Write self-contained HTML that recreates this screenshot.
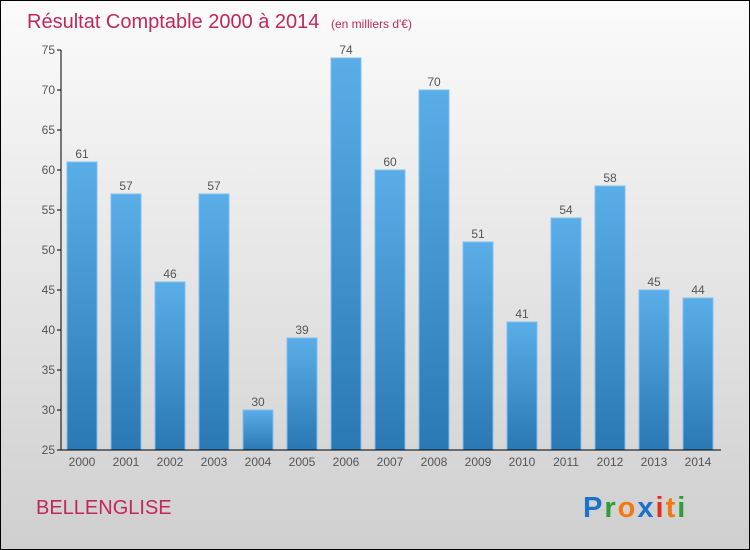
<!DOCTYPE html>
<html><head><meta charset="utf-8"><style>
body{margin:0;width:750px;height:550px;overflow:hidden}
svg{display:block}
</style></head><body>
<svg id="c" width="750" height="550" xmlns="http://www.w3.org/2000/svg">
<defs>
<linearGradient id="bg" x1="0" y1="0" x2="0" y2="1"><stop offset="0" stop-color="#fbfbfb"/><stop offset="1" stop-color="#cfcfcf"/></linearGradient>
<linearGradient id="bar" x1="0" y1="0" x2="0" y2="1"><stop offset="0" stop-color="#5aaee8"/><stop offset="1" stop-color="#2a78b4"/></linearGradient>
</defs>
<rect x="0.5" y="0.5" width="749" height="549" fill="url(#bg)" stroke="#000"/>
<text x="27" y="28" font-family="Liberation Sans, sans-serif" font-size="20" fill="#c0285a">Résultat Comptable 2000 à 2014 <tspan font-size="12" dx="6">(en milliers d'€)</tspan></text>
<text x="36" y="514" font-family="Liberation Sans, sans-serif" font-size="20" fill="#c0285a">BELLENGLISE</text>
<g font-family="Liberation Sans, sans-serif" font-size="29" font-weight="bold" letter-spacing="2">
<text x="583" y="517"><tspan fill="#1a73c8">P</tspan><tspan fill="#2e9e3a">r</tspan><tspan fill="#f07a10">o</tspan><tspan fill="#1a73c8">x</tspan><tspan fill="#e03020">i</tspan><tspan fill="#f07a10">t</tspan><tspan fill="#2e9e3a">i</tspan></text>
</g>
<g id="plot"></g>
</svg>
<script>
const years=["2000","2001","2002","2003","2004","2005","2006","2007","2008","2009","2010","2011","2012","2013","2014"];
const values=[61,57,46,57,30,39,74,60,70,51,41,54,58,45,44];
const ticks=[25,30,35,40,45,50,55,60,65,70,75];
const NS="http://www.w3.org/2000/svg";
const g=document.getElementById('plot');
const y=v=>450-(v-25)*8;
const x=i=>82+i*44;
function mk(t,a){const e=document.createElementNS(NS,t);for(const k in a)e.setAttribute(k,a[k]);g.appendChild(e);return e;}
ticks.forEach(t=>{
 const l=mk('line',{x1:57,x2:61,y1:y(t),y2:y(t),stroke:'#000'});
 
 
 const tx=mk('text',{x:55,y:y(t)+4,'text-anchor':'end','font-family':'Liberation Sans, sans-serif','font-size':12,fill:'#555'});
 tx.textContent=t;
 
 
});
values.forEach((v,i)=>{
 const r=mk('rect',{x:x(i)-15,y:y(v),width:30,height:450-y(v),fill:'url(#bar)',stroke:'#7cc0f0','stroke-width':1});
 
 
 const vl=mk('text',{x:x(i),y:y(v)-4,'text-anchor':'middle','font-family':'Liberation Sans, sans-serif','font-size':12,fill:'#555'});
 vl.textContent=v;
 
 
 const xl=mk('text',{x:x(i),y:466,'text-anchor':'middle','font-family':'Liberation Sans, sans-serif','font-size':12,fill:'#555'});
 xl.textContent=years[i];
 
 
});
const ya=mk('line',{x1:61,x2:61,y1:50,y2:450,stroke:'#000'});


const xa=mk('line',{x1:61,x2:721,y1:450,y2:450,stroke:'#000'});


</script>
</body></html>
